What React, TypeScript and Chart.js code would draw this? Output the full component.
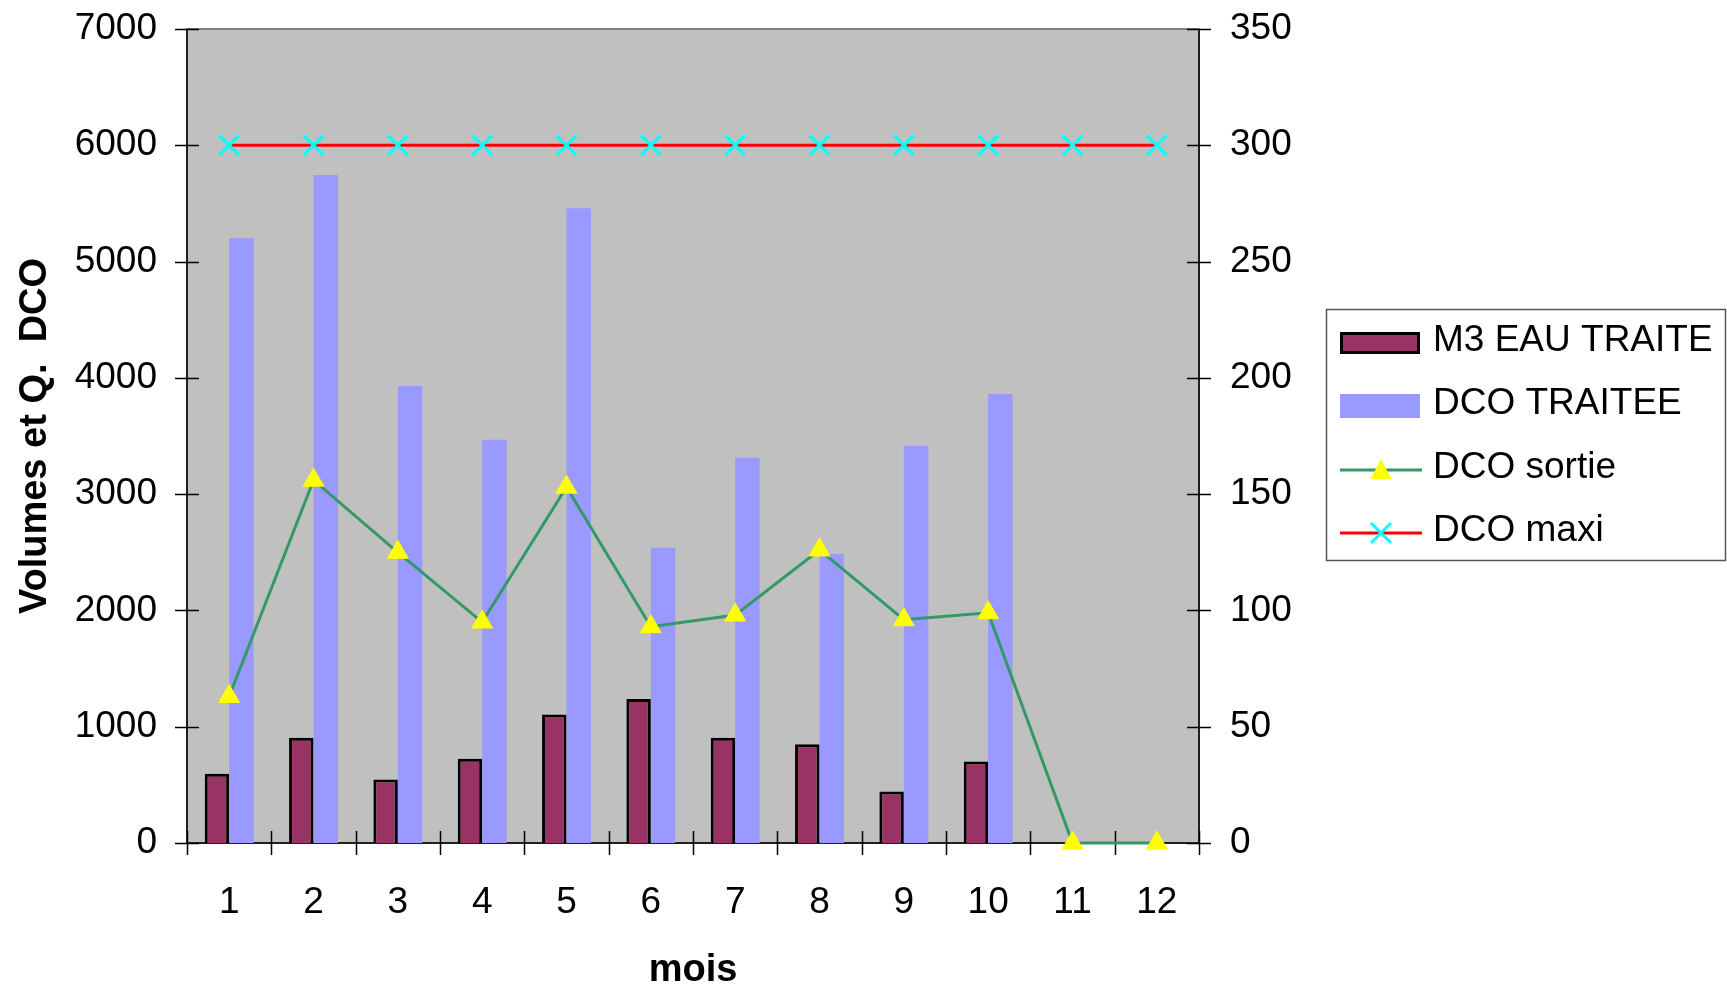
import React, { useEffect, useRef } from "react";
import { Chart, registerables } from "chart.js";

Chart.register(...registerables);

// ---------- data ----------
const months = ["1", "2", "3", "4", "5", "6", "7", "8", "9", "10", "11", "12"];
const m3EauTraite = [595, 905, 545, 725, 1105, 1238, 905, 850, 443, 700, null, null];
const dcoTraitee = [5200, 5745, 3930, 3468, 5458, 2538, 3314, 2485, 3414, 3862, null, null];
const dcoSortie = [63, 156, 125, 95, 153, 93, 98, 126, 96, 99, 0, 0];
const dcoMaxi = [300, 300, 300, 300, 300, 300, 300, 300, 300, 300, 300, 300];
const leftAxisMax = 7000;
const leftAxisStep = 1000;
const rightAxisMax = 350;
const rightAxisStep = 50;
const seriesNames = ["M3 EAU TRAITE", "DCO TRAITEE", "DCO sortie", "DCO maxi"];
const xTitle = "mois";
const yTitle = "Volumes et Q.  DCO";

// ---------- style ----------
const FONT = "'Liberation Sans', Arial, Helvetica, sans-serif";
const W = 1727;
const H = 986;
const C_M3 = "#993366";
const C_DCO = "#9999FF";
const C_SORTIE = "#339966";
const C_TRI = "#FFFF00";
const C_MAXI = "#FF0000";
const C_CROSS = "#00FFFF";
const PLOT_BG = "#C0C0C0";

const plotPlugin = {
  id: "plotDecor",
  beforeDraw(chart: any) {
    const { ctx, chartArea: a } = chart;
    ctx.save();
    ctx.fillStyle = PLOT_BG;
    ctx.fillRect(a.left, a.top, a.right - a.left, a.bottom - a.top);
    ctx.restore();
  },
  beforeDatasetsDraw(chart: any) {
    const { ctx, chartArea: a, scales } = chart;
    ctx.save();
    // plot border
    ctx.strokeStyle = "#808080";
    ctx.lineWidth = 2;
    ctx.strokeRect(a.left, a.top, a.right - a.left, a.bottom - a.top);
    // axes lines
    ctx.strokeStyle = "#000";
    ctx.lineWidth = 1.5;
    ctx.beginPath();
    ctx.moveTo(a.left, a.top);
    ctx.lineTo(a.left, a.bottom);
    ctx.moveTo(a.right, a.top);
    ctx.lineTo(a.right, a.bottom);
    ctx.moveTo(a.left, a.bottom);
    ctx.lineTo(a.right, a.bottom);
    const tl = 12;
    // y ticks (cross)
    scales.y.ticks.forEach((t: any) => {
      const py = Math.round(scales.y.getPixelForValue(t.value)) + 0.5;
      ctx.moveTo(a.left - tl, py);
      ctx.lineTo(a.left + tl, py);
    });
    scales.y1.ticks.forEach((t: any) => {
      const py = Math.round(scales.y1.getPixelForValue(t.value)) + 0.5;
      ctx.moveTo(a.right - tl, py);
      ctx.lineTo(a.right + tl, py);
    });
    // x ticks at category boundaries
    const n = months.length;
    const cw = (a.right - a.left) / n;
    for (let i = 0; i <= n; i++) {
      const px = Math.round(a.left + i * cw) + 0.5;
      ctx.moveTo(px, a.bottom - tl);
      ctx.lineTo(px, a.bottom + tl);
    }
    ctx.stroke();
    ctx.restore();
  },
};

const legendPlugin = {
  id: "boxLegend",
  afterDraw(chart: any) {
    const { ctx } = chart;
    const bx = 1326.5, by = 309.5, bw = 399, bh = 251;
    const rows = [343, 406, 470, 533];
    const sx = 1340, sw = 80, tx = 1433;
    ctx.save();
    ctx.fillStyle = "#fff";
    ctx.fillRect(bx, by, bw, bh);
    ctx.strokeStyle = "#555";
    ctx.lineWidth = 1.5;
    ctx.strokeRect(bx, by, bw, bh);

    // M3 box
    ctx.fillStyle = C_M3;
    ctx.fillRect(sx, rows[0] - 11, sw, 22);
    ctx.strokeStyle = "#000";
    ctx.lineWidth = 3;
    ctx.strokeRect(sx + 1.5, rows[0] - 9.5, sw - 3, 19);
    // DCO box
    ctx.fillStyle = C_DCO;
    ctx.fillRect(sx, rows[1] - 12, sw, 24);
    // sortie line + triangle
    ctx.strokeStyle = C_SORTIE;
    ctx.lineWidth = 3;
    ctx.beginPath();
    ctx.moveTo(sx, rows[2]);
    ctx.lineTo(sx + sw + 2, rows[2]);
    ctx.stroke();
    ctx.fillStyle = C_TRI;
    ctx.beginPath();
    const cx = sx + 41;
    ctx.moveTo(cx, rows[2] - 11);
    ctx.lineTo(cx + 10.5, rows[2] + 9);
    ctx.lineTo(cx - 10.5, rows[2] + 9);
    ctx.closePath();
    ctx.fill();
    // maxi line + cross
    ctx.strokeStyle = C_MAXI;
    ctx.beginPath();
    ctx.moveTo(sx, rows[3]);
    ctx.lineTo(sx + sw + 2, rows[3]);
    ctx.stroke();
    ctx.strokeStyle = C_CROSS;
    ctx.beginPath();
    ctx.moveTo(cx - 10, rows[3] - 10);
    ctx.lineTo(cx + 10, rows[3] + 10);
    ctx.moveTo(cx + 10, rows[3] - 10);
    ctx.lineTo(cx - 10, rows[3] + 10);
    ctx.stroke();

    ctx.fillStyle = "#000";
    ctx.font = `37px ${FONT}`;
    ctx.textBaseline = "middle";
    ctx.textAlign = "left";
    seriesNames.forEach((s, i) => ctx.fillText(s, tx, rows[i] - 2));
    ctx.restore();
  },
};

export default function App() {
  const ref = useRef<HTMLCanvasElement>(null);
  useEffect(() => {
    Chart.defaults.font.family = FONT;
    Chart.defaults.color = "#000";
    const tickFont = { size: 37, family: FONT };
    const titleFont = { size: 38, weight: "bold" as const, family: FONT, lineHeight: 1.2 };
    const chart = new Chart(ref.current!, {
      type: "bar",
      data: {
        labels: months,
        datasets: [
          {
            type: "bar",
            label: seriesNames[0],
            data: m3EauTraite as any,
            backgroundColor: C_M3,
            borderColor: "#000",
            borderWidth: 3,
            borderSkipped: "bottom",
            yAxisID: "y",
            order: 2,
            barPercentage: 1,
            categoryPercentage: 0.58,
          },
          {
            type: "bar",
            label: seriesNames[1],
            data: dcoTraitee as any,
            backgroundColor: C_DCO,
            borderWidth: 0,
            yAxisID: "y",
            order: 2,
            barPercentage: 1,
            categoryPercentage: 0.58,
          },
          {
            type: "line",
            label: seriesNames[2],
            data: dcoSortie,
            borderColor: C_SORTIE,
            borderWidth: 3,
            pointStyle: "triangle",
            pointRadius: 12,
            pointHoverRadius: 12,
            pointBackgroundColor: C_TRI,
            pointBorderColor: C_TRI,
            pointBorderWidth: 1,
            yAxisID: "y1",
            order: 1,
            tension: 0,
            clip: false as any,
          },
          {
            type: "line",
            label: seriesNames[3],
            data: dcoMaxi,
            borderColor: C_MAXI,
            borderWidth: 3,
            pointStyle: "crossRot",
            pointRadius: 14,
            pointHoverRadius: 14,
            pointBorderColor: C_CROSS,
            pointBackgroundColor: C_CROSS,
            pointBorderWidth: 3,
            yAxisID: "y1",
            order: 0,
            tension: 0,
            clip: false as any,
          },
        ],
      },
      options: {
        responsive: false,
        animation: false,
        devicePixelRatio: 1,
        layout: { padding: { top: 29, left: 0, right: 0, bottom: 0 } },
        plugins: { legend: { display: false }, tooltip: { enabled: false } },
        scales: {
          x: {
            offset: true,
            grid: { display: false, drawTicks: false },
            border: { display: false },
            ticks: { font: tickFont, color: "#000", padding: 38, maxRotation: 0, autoSkip: false },
            title: { display: true, text: xTitle, font: titleFont, color: "#000", padding: { top: 0, bottom: -7 } },
            afterFit(s: any) {
              s.height = 143;
            },
          },
          y: {
            position: "left",
            min: 0,
            max: leftAxisMax,
            grid: { display: false, drawTicks: false },
            border: { display: false },
            ticks: { stepSize: leftAxisStep, font: tickFont, color: "#000", padding: 30, callback: (v: any) => String(v) },
            title: { display: true, text: yTitle, font: titleFont, color: "#000", padding: { top: 13, bottom: 0 } },
            afterFit(s: any) {
              s.width = 187;
              s.paddingTop = 0;
              s.paddingBottom = 0;
            },
          },
          y1: {
            position: "right",
            min: 0,
            max: rightAxisMax,
            grid: { display: false, drawTicks: false },
            border: { display: false },
            ticks: { stepSize: rightAxisStep, font: tickFont, color: "#000", padding: 31, callback: (v: any) => String(v) },
            afterFit(s: any) {
              s.width = W - 1199;
              s.paddingTop = 0;
              s.paddingBottom = 0;
            },
          },
        },
      },
      plugins: [plotPlugin, legendPlugin],
    });
    return () => chart.destroy();
  }, []);
  return (
    <div style={{ position: "absolute", left: 0, top: 0, width: W, height: H, background: "#fff" }}>
      <canvas ref={ref} width={W} height={H} style={{ display: "block", width: W, height: H }} />
    </div>
  );
}
